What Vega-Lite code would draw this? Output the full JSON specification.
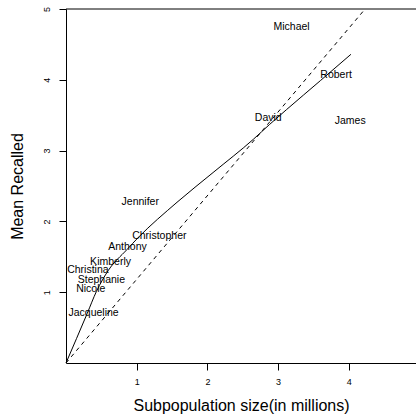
{
  "$schema": "https://vega.github.io/schema/vega-lite/v6.json",
  "autosize": {"type": "none"},
  "width": 350,
  "height": 354,
  "padding": {"left": 66, "top": 9, "right": 0, "bottom": 55},
  "background": "white",
  "config": {
    "view": {"stroke": null},
    "font": "Liberation Sans",
    "axis": {"grid": false, "domainColor": "black", "tickColor": "black", "labelColor": "black", "titleColor": "black", "titleFontWeight": "normal", "titleFontSize": 16, "labelFontSize": 9}
  },
  "datasets": {
    "names": [
      {"name": "Michael", "size": 3.19, "recalled": 4.74},
      {"name": "Robert", "size": 3.82, "recalled": 4.07},
      {"name": "David", "size": 2.86, "recalled": 3.46},
      {"name": "James", "size": 4.02, "recalled": 3.42},
      {"name": "Jennifer", "size": 1.05, "recalled": 2.28},
      {"name": "Christopher", "size": 1.32, "recalled": 1.8},
      {"name": "Anthony", "size": 0.87, "recalled": 1.64},
      {"name": "Kimberly", "size": 0.63, "recalled": 1.42},
      {"name": "Christina", "size": 0.31, "recalled": 1.31},
      {"name": "Stephanie", "size": 0.5, "recalled": 1.17},
      {"name": "Nicole", "size": 0.35, "recalled": 1.04},
      {"name": "Jacqueline", "size": 0.39, "recalled": 0.7}
    ],
    "fit": [
      {"size": 0, "recalled": 0},
      {"size": 0.3, "recalled": 0.7},
      {"size": 0.43, "recalled": 1.01},
      {"size": 0.6, "recalled": 1.31},
      {"size": 0.86, "recalled": 1.6},
      {"size": 1.02, "recalled": 1.77},
      {"size": 1.57, "recalled": 2.27},
      {"size": 2.08, "recalled": 2.69},
      {"size": 2.65, "recalled": 3.16},
      {"size": 2.88, "recalled": 3.37},
      {"size": 3.12, "recalled": 3.58},
      {"size": 3.6, "recalled": 3.99},
      {"size": 4.03, "recalled": 4.36}
    ],
    "identity": [
      {"size": 0, "recalled": 0},
      {"size": 4.23, "recalled": 5}
    ],
    "frame": [
      {"size": 0, "recalled": 5},
      {"size": 4.95, "recalled": 5}
    ]
  },
  "encoding": {
    "x": {"field": "size", "type": "quantitative", "scale": {"domain": [0, 4.95], "nice": false, "zero": false},
          "axis": {"title": "Subpopulation size(in millions)", "values": [1, 2, 3, 4], "tickSize": 7, "labelPadding": 7, "titlePadding": 11}},
    "y": {"field": "recalled", "type": "quantitative", "scale": {"domain": [0, 5], "nice": false, "zero": false},
          "axis": {"title": "Mean Recalled", "values": [1, 2, 3, 4, 5], "tickSize": 7, "labelAngle": -90, "labelAlign": "center", "labelBaseline": "bottom", "labelPadding": 8, "titlePadding": 17}}
  },
  "layer": [
    {
      "data": {"name": "names"},
      "mark": {"type": "text", "fontSize": 10.5, "align": "center", "baseline": "middle", "color": "black"},
      "encoding": {"text": {"field": "name"}}
    },
    {
      "data": {"name": "fit"},
      "mark": {"type": "line", "color": "black", "strokeWidth": 1, "interpolate": "monotone"}
    },
    {
      "data": {"name": "identity"},
      "mark": {"type": "line", "color": "black", "strokeWidth": 1, "strokeDash": [4, 4]}
    },
    {
      "data": {"name": "frame"},
      "mark": {"type": "line", "color": "black", "strokeWidth": 1}
    }
  ]
}
